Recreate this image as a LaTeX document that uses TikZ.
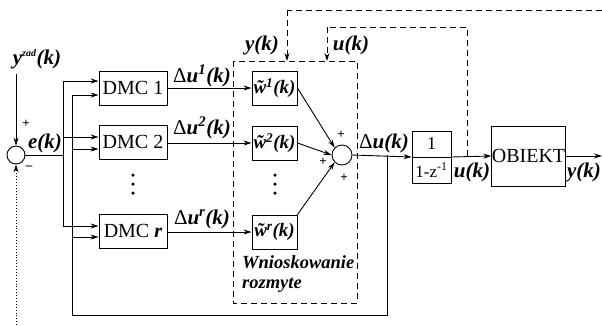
\documentclass[tikz,border=0pt]{standalone}
\usepackage{fontspec}
\setmainfont{Liberation Serif}
\usetikzlibrary{arrows.meta}
\tikzset{
  ln/.style={line width=0.9pt},
  arr/.style={ln,-{Stealth[length=8pt,width=5pt]}},
  blk/.style={draw,line width=0.9pt,rectangle,inner sep=0pt,font=\fontsize{20}{22}\selectfont},
  wtxt/.style={inner sep=0pt,font=\fontsize{19}{20}\selectfont\bfseries\itshape},
  sumc/.style={draw,line width=0.9pt,circle,inner sep=0pt},
  lbl/.style={inner sep=0pt,font=\fontsize{21}{22}\selectfont\bfseries\itshape},
  pm/.style={inner sep=0pt,font=\fontsize{13}{13}\selectfont\bfseries},
  dsh/.style={line width=0.9pt,dash pattern=on 6pt off 4pt},
  dt/.style={circle,fill,inner sep=0pt,minimum size=3.5pt}
}
\newcommand{\Dl}{{\upshape\mdseries Δ}}
\begin{document}
\begin{tikzpicture}[x=1pt,y=-1pt]
\useasboundingbox (0,0) rectangle (602,325);
% blocks
\node[sumc,minimum size=18pt] (s1) at (16,155) {};
\node[blk,minimum width=68pt,minimum height=34pt] (d1) at (133,88) {DMC 1};
\node[blk,minimum width=68pt,minimum height=34pt] (d2) at (133,142) {DMC 2};
\node[blk,minimum width=68pt,minimum height=34pt] (dr) at (133,231) {DMC \textbf{\textit{r}}};
\node[blk,minimum width=45pt,minimum height=34pt] (w1) at (274.5,88) {};
\node[blk,minimum width=45pt,minimum height=34pt] (w2) at (274.5,143) {};
\node[blk,minimum width=45pt,minimum height=34pt] (wr) at (274.5,232) {};
\node[wtxt] (w1t) at (w1) {\~{w}\textsuperscript{1}(k)};
\node[wtxt] (w2t) at (w2) {\~{w}\textsuperscript{2}(k)};
\node[wtxt] (wrt) at (wr) {\~{w}\textsuperscript{r}(k)};
\node[sumc,minimum size=20pt] (s2) at (342,155) {};
\node[blk,minimum width=39pt,minimum height=52pt] (ig) at (431.5,157) {};
\draw[ln] (ig.west) -- (ig.east);
\node[inner sep=0pt,font=\fontsize{18}{18}\selectfont] (ig1) at (431.5,144) {1};
\node[inner sep=0pt,font=\fontsize{17}{18}\selectfont] (ig2) at (431.5,170) {1-z\textsuperscript{-1}};
\node[blk,minimum width=73pt,minimum height=60pt] (ob) at (528.5,156) {OBIEKT};
% fuzzy box
\draw[dsh] (233,61) rectangle (357,303);
\node[anchor=west,inner sep=0pt,font=\fontsize{18.5}{20}\selectfont\bfseries\itshape] (wn) at (242,262) {Wnioskowanie};
\node[anchor=west,inner sep=0pt,font=\fontsize{18.5}{20}\selectfont\bfseries\itshape] (rz) at (242,285) {rozmyte};
% dots
\foreach \x in {133,275}{\foreach \y in {175,184,193}{\node[dt] at (\x,\y) {};}}
% labels
\node[lbl] (yz) at (37,59) {y\textsuperscript{\fontsize{10}{10}\selectfont zad}(k)};
\node[lbl] (ek) at (45,143) {e(k)};
\node[pm] at (26,124) {+};
\node[pm] at (29,168) {--};
\node[lbl] at (202,76) {\Dl u\textsuperscript{1}(k)};
\node[lbl] at (202,128) {\Dl u\textsuperscript{2}(k)};
\node[lbl] at (202,219) {\Dl u\textsuperscript{r}(k)};
\node[pm] at (341,135) {+};
\node[pm] at (323,162) {+};
\node[pm] at (344,178) {+};
\node[lbl] at (384,143) {\Dl u(k)};
\node[lbl] at (472,172) {u(k)};
\node[lbl] at (584,172) {y(k)};
\node[lbl] at (262,45) {y(k)};
\node[lbl] at (351,45) {u(k)};
% coordinates
\coordinate (yin) at (16,74);
\coordinate (fbb) at (16,325);
\coordinate (eb) at (63,155);
\coordinate (e1) at (63,81);
\coordinate (er) at (63,226);
\coordinate (f1) at (72,95);
\coordinate (fr) at (72,237);
\coordinate (fbot) at (72,315);
\coordinate (br) at (387,155);
\coordinate (brb) at (387,315);
\coordinate (uk) at (467,156);
\coordinate (ukt) at (467,27);
\coordinate (ukl) at (327,27);
\coordinate (ykr) at (602,10);
\coordinate (ykl) at (287,10);
\coordinate (yout) at (602,156);
% connectors
\draw[arr] (yin) -- (s1.north);
\draw[arr,dotted] (fbb) -- (s1.south);
\draw[ln] (s1.east) -- (eb);
\draw[ln] (e1) -- (er);
\draw[ln] (f1) -- (fbot) -- (brb) -- (br);
\draw[arr] (e1) -- (d1.west |- e1);
\draw[arr] (f1) -- (d1.west |- f1);
\draw[arr] (63,137) -- (d2.west |- 0,137);
\draw[arr] (72,149) -- (d2.west |- 0,149);
\draw[arr] (er) -- (dr.west |- er);
\draw[arr] (fr) -- (dr.west |- fr);
\draw[arr] (d1.east) -- (w1.west);
\draw[arr] (d2.east |- 0,143) -- (w2.west);
\draw[arr] (dr.east |- 0,232) -- (wr.west);
\draw[arr] (w1.east) -- (s2.north west);
\draw[arr] (w2.east) -- (s2.west);
\draw[arr] (wr.north east) -- (s2.south west);
\draw[arr] (s2.east) -- (ig.west);
\draw[arr] (ig.east) -- (ob.west);
\draw[arr] (ob.east) -- (yout);
\draw[dsh] (uk) -- (ukt) -- (ukl);
\draw[dsh,-{Stealth[length=8pt,width=5pt]}] (ukl) -- (327,61);
\draw[dsh] (ykr) -- (ykl);
\draw[dsh,-{Stealth[length=8pt,width=5pt]}] (ykl) -- (287,61);
\end{tikzpicture}
\end{document}
